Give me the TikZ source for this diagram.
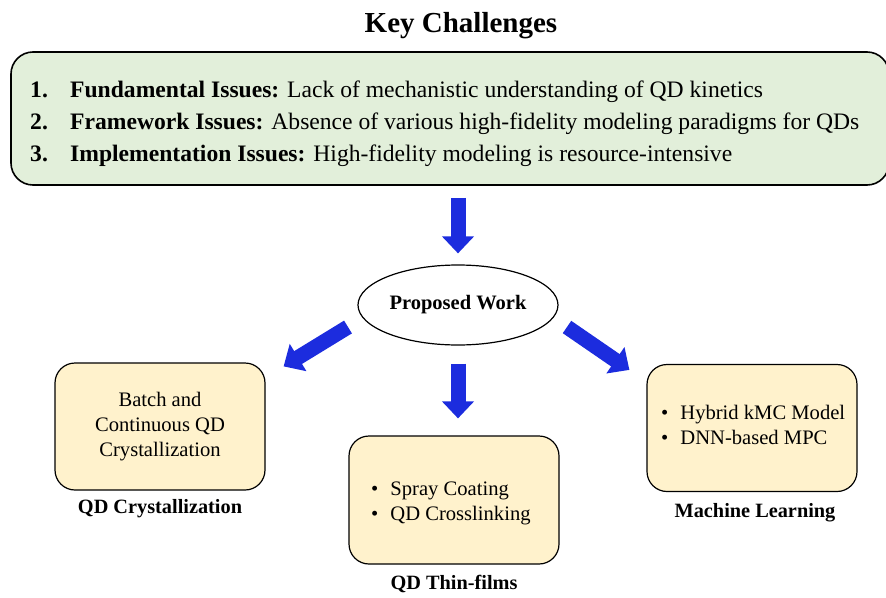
\documentclass[tikz,border=0pt]{standalone}
\usepackage{fontspec}
\setmainfont{Liberation Serif}
\usetikzlibrary{arrows.meta,shapes.geometric,calc}
\definecolor{kcgreen}{RGB}{226,239,218}
\definecolor{boxyellow}{RGB}{255,242,204}
\definecolor{arrblue}{RGB}{28,44,222}
\tikzset{
  bigarrow/.style={draw=arrblue, line width=15pt,
    -{Triangle[width=31pt,length=17pt]}},
  itembox/.style={draw=black, line width=1.2pt, fill=boxyellow,
    rounded corners=20pt, minimum width=210pt, minimum height=127pt, inner sep=0pt},
  boxlabel/.style={font=\fontsize{20.3}{24}\selectfont\bfseries},
  boxtext/.style={font=\fontsize{20.6}{25}\selectfont},
  kcline/.style={anchor=west, font=\fontsize{23.6}{27}\selectfont, inner sep=0pt},
}
\begin{document}
\begin{tikzpicture}[x=1pt,y=-1pt]
\useasboundingbox (0,0) rectangle (886,597);
\node[font=\fontsize{29}{34}\selectfont\bfseries] (title) at (461,26) {Key Challenges};
\node[draw=black, line width=1.6pt, fill=kcgreen, rounded corners=22pt,
  minimum width=878pt, minimum height=133pt, inner sep=0pt] (kc) at (450,118.5) {};
\node[kcline] (l1) at (30,92) {\makebox[40pt][l]{\textbf{1.}}\textbf{Fundamental Issues:} Lack of mechanistic understanding of QD kinetics};
\node[kcline] (l2) at (30,124) {\makebox[40pt][l]{\textbf{2.}}\textbf{Framework Issues:} Absence of various high-fidelity modeling paradigms for QDs};
\node[kcline] (l3) at (30,156) {\makebox[40pt][l]{\textbf{3.}}\textbf{Implementation Issues:} High-fidelity modeling is resource-intensive};

\node[draw=black, line width=1.2pt, ellipse, minimum width=200pt, minimum height=80pt,
  inner sep=0pt, font=\fontsize{20.5}{24}\selectfont\bfseries] (pw) at (458,305) {Proposed Work};

\node[itembox, boxtext, align=center] (lb) at (160,426.5) {Batch and\\Continuous QD\\Crystallization};
\node[boxlabel] (lbl) at (160,509) {QD Crystallization};

\node[itembox, boxtext, minimum height=128pt] (mb) at (454,500) {};
\node[boxtext, anchor=west, align=left, inner sep=0pt] (mbt) at (371,503)
  {\textbullet\hspace{12pt}Spray Coating\\\textbullet\hspace{12pt}QD Crosslinking};
\node[boxlabel] (mbl) at (454,584) {QD Thin-films};

\node[itembox, boxtext] (rb) at (752,428) {};
\node[boxtext, anchor=west, align=left, inner sep=0pt] (rbt) at (661,425)
  {\textbullet\hspace{12pt}Hybrid kMC Model\\\textbullet\hspace{12pt}DNN-based MPC};
\node[boxlabel] (rbl) at (755,513) {Machine Learning};

\draw[bigarrow] ([yshift=-12]kc.south -| pw.north) -- ([yshift=11]pw.north);
\draw[bigarrow] ([shift={(-110,22)}]pw.center) -- ([shift={(18,4)}]lb.north east);
\draw[bigarrow] ([yshift=-18]pw.south) -- ([yshift=17]pw.south |- mb.north);
\draw[bigarrow] ([shift={(109,22)}]pw.center) -- ([shift={(-17,6)}]rb.north west);
\end{tikzpicture}
\end{document}
